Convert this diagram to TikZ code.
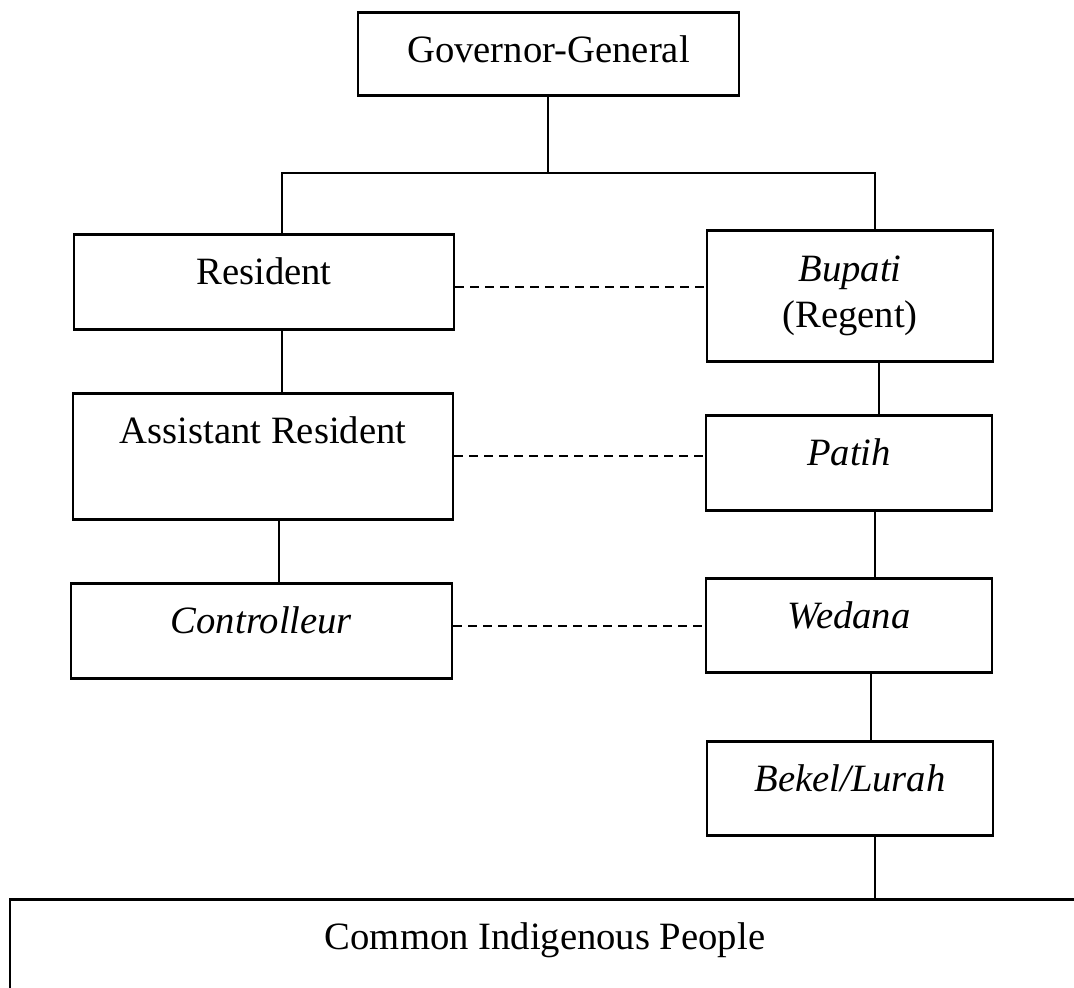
\documentclass[tikz,border=0pt]{standalone}
\usepackage{fontspec}
\setmainfont{Liberation Serif}
\begin{document}
\begin{tikzpicture}
      \tikzstyle{STY1} = [draw, rectangle, anchor=north, line width=0.8pt, inner sep=0pt, align=center, font=\fontsize{11}{13.1}\selectfont]
      \tikzstyle{STY2} = [line width=0.6pt]
      \tikzstyle{STY3} = [line width=0.6pt, dash pattern=on 0.085cm off 0.065cm]

      \clip (0,0) rectangle (10.74,-9.87);

      %%%%% VERTEX

      \node[STY1, minimum width=3.81cm, text height=0.5cm, text depth=0.33cm](v1) at (5.485,-0.11) {Governor-General};

      \node[STY1, minimum width=3.80cm, text height=0.5cm, text depth=0.45cm](v2) at (2.64,-2.33) {Resident};
      \node[STY1, minimum width=3.80cm, text height=0.5cm, text depth=0.76cm](v3) at (2.63,-3.92) {Assistant Resident};
      \node[STY1, minimum width=3.81cm, text height=0.5cm, text depth=0.45cm](v4) at (2.615,-5.82) {\textit{Controlleur}};

      \node[STY1, minimum width=2.86cm, minimum height=1.31cm](v5) at (8.50,-2.29) {\textit{Bupati}\\(Regent)};
      \node[STY1, minimum width=2.86cm, text height=0.5cm, text depth=0.45cm](v6) at (8.49,-4.14) {\textit{Patih}};
      \node[STY1, minimum width=2.86cm, text height=0.5cm, text depth=0.44cm](v7) at (8.49,-5.77) {\textit{Wedana}};
      \node[STY1, minimum width=2.86cm, text height=0.5cm, text depth=0.44cm](v8) at (8.50,-7.40) {\textit{Bekel/Lurah}};

      \node[STY1, minimum width=10.70cm, text height=0.5cm, text depth=0.8cm](v9) at (5.45,-8.98) {Common Indigenous People};

      %%%%% EDGES

      \draw[STY2]  ([xshift=-0.005cm]v1.south) -- ++(0,-0.76) coordinate (j) -| ([xshift=0.18cm]v2.north);
      \draw[STY2]  (j) -| ([xshift=0.25cm]v5.north);

      \draw[STY2]  ([xshift=0.18cm]v2.south) -- ([xshift=0.18cm]v2.south |- v3.north);
      \draw[STY2]  ([xshift=0.16cm]v3.south) -- ([xshift=0.16cm]v3.south |- v4.north);

      \draw[STY2]  ([xshift=0.29cm]v5.south) -- ([xshift=0.29cm]v5.south |- v6.north);
      \draw[STY2]  ([xshift=0.26cm]v6.south) -- ([xshift=0.26cm]v6.south |- v7.north);
      \draw[STY2]  ([xshift=0.22cm]v7.south) -- ([xshift=0.22cm]v7.south |- v8.north);
      \draw[STY2]  ([xshift=0.25cm]v8.south) -- ([xshift=0.25cm]v8.south |- v9.north);

      \draw[STY3]  ([yshift=-0.055cm]v2.east) -- ([yshift=-0.055cm]v2.east -| v5.west);
      \draw[STY3]  (v3.east) -- (v3.east -| v6.west);
      \draw[STY3]  ([yshift=0.045cm]v4.east) -- ([yshift=0.045cm]v4.east -| v7.west);
\end{tikzpicture}
\end{document}
